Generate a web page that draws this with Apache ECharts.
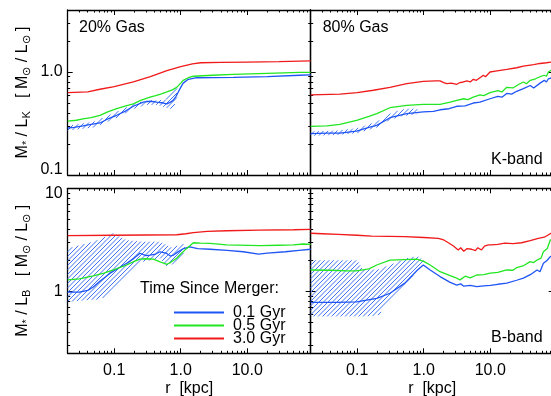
<!DOCTYPE html>
<html><head><meta charset="utf-8">
<script src="https://cdn.jsdelivr.net/npm/echarts@6/dist/echarts.min.js"></script>
<style>html,body{margin:0;padding:0;background:#fff}#c{width:551px;height:396px}</style>
</head><body><div id="c"></div>
<script>
// ---------- tick values ----------
const xMajor = [0.1, 1, 10];
const xMinor = [0.02,0.03,0.04,0.05,0.06,0.07,0.08,0.09,0.2,0.3,0.4,0.5,0.6,0.7,0.8,0.9,2,3,4,5,6,7,8,9,20,30,40,50,60,70,80,90];
const yTopMajor = [0.1, 1];
const yTopMinor = [0.2,0.3,0.4,0.5,0.6,0.7,0.8,0.9,2,3,4];
const yBotMajor = [1, 10];
const yBotMinor = [0.3,0.4,0.5,0.6,0.7,0.8,0.9,2,3,4,5,6,7,8,9];
const seriesNames = ['0.1 Gyr', '0.5 Gyr', '3.0 Gyr'];

// ---------- 20% gas, K-band ----------
const tlRed = [[0.02,0.63],[0.04,0.64],[0.061,0.68],[0.1,0.72],[0.194,0.80],[0.35,0.90],[0.62,1.03],[1.0,1.13],[1.5,1.2],[2.0,1.23],[4,1.24],[10,1.25],[30,1.26],[90,1.28]];
const tlGreen = [[0.02,0.334],[0.027,0.34],[0.034,0.35],[0.045,0.36],[0.061,0.38],[0.08,0.41],[0.109,0.44],[0.15,0.47],[0.194,0.49],[0.25,0.53],[0.346,0.57],[0.42,0.59],[0.5,0.61],[0.62,0.64],[0.75,0.67],[0.87,0.71],[1.0,0.78],[1.09,0.83],[1.3,0.88],[1.55,0.91],[3,0.93],[6.2,0.95],[20,0.97],[62,0.99],[90,0.99]];
const tlBlue = [[0.02,0.286],[0.025,0.29],[0.034,0.30],[0.045,0.31],[0.061,0.32],[0.08,0.35],[0.109,0.38],[0.15,0.42],[0.194,0.465],[0.274,0.51],[0.35,0.52],[0.435,0.51],[0.55,0.50],[0.62,0.49],[0.7,0.51],[0.77,0.53],[0.85,0.58],[0.92,0.64],[1.0,0.71],[1.09,0.78],[1.3,0.85],[1.74,0.88],[6.2,0.885],[20,0.90],[62,0.93],[90,0.94]];
const tlBand = [[0.02,0.27,0.30],[0.05,0.29,0.33],[0.1,0.35,0.40],[0.2,0.44,0.49],[0.3,0.48,0.53],[0.45,0.48,0.53],[0.6,0.45,0.54],[0.7,0.44,0.60],[0.8,0.47,0.66],[0.88,0.55,0.70]];

// ---------- 80% gas, K-band ----------
const trRed = [[0.02,0.60],[0.055,0.61],[0.1,0.63],[0.175,0.665],[0.311,0.71],[0.556,0.77],[0.986,0.81],[1.5,0.82],[1.76,0.82],[2.0,0.79],[2.22,0.77],[2.6,0.78],[3.14,0.76],[3.5,0.79],[3.94,0.80],[4.5,0.82],[5.0,0.80],[5.57,0.85],[6.2,0.83],[7.0,0.88],[7.89,0.93],[8.5,0.90],[9.93,1.0],[12,1.02],[17.7,1.06],[25,1.1],[31.5,1.14],[45,1.18],[56.1,1.21],[70,1.23],[90,1.26]];
const trGreen = [[0.02,0.297],[0.035,0.30],[0.055,0.31],[0.098,0.34],[0.15,0.37],[0.197,0.395],[0.311,0.45],[0.556,0.475],[0.986,0.486],[1.76,0.486],[2.5,0.51],[3.14,0.53],[4,0.55],[4.6,0.54],[5.57,0.57],[7,0.60],[8,0.59],[9.93,0.63],[13,0.66],[15,0.64],[17.7,0.71],[22,0.70],[27,0.76],[31.5,0.80],[35,0.77],[40,0.83],[48,0.86],[56.1,0.90],[65,0.93],[70,0.91],[75,1.0],[90,1.08]];
const trBlue = [[0.02,0.252],[0.035,0.255],[0.055,0.255],[0.098,0.267],[0.15,0.29],[0.197,0.303],[0.311,0.36],[0.556,0.395],[0.986,0.41],[1.4,0.415],[1.76,0.43],[2.4,0.44],[3.14,0.465],[4.2,0.47],[5.57,0.50],[7,0.51],[9.93,0.55],[13,0.58],[15,0.57],[17.7,0.62],[21,0.61],[25,0.65],[31.5,0.69],[40,0.74],[45,0.70],[56.1,0.78],[65,0.83],[70,0.80],[75,0.86],[90,0.89]];
const trBand = [[0.02,0.24,0.265],[0.05,0.245,0.27],[0.1,0.255,0.285],[0.2,0.29,0.33],[0.3,0.34,0.39],[0.45,0.37,0.43],[0.6,0.38,0.44],[0.8,0.39,0.44]];

// ---------- 20% gas, B-band ----------
const blRed = [[0.02,3.47],[0.1,3.5],[0.3,3.52],[0.87,3.54],[1.2,3.62],[1.55,3.72],[2.5,3.82],[4.9,3.87],[15,3.92],[50,3.96],[90,4.0]];
const blGreen = [[0.02,1.29],[0.03,1.32],[0.0485,1.41],[0.07,1.5],[0.1,1.62],[0.154,1.80],[0.2,1.95],[0.244,2.05],[0.3,2.07],[0.387,2.05],[0.5,1.92],[0.62,1.83],[0.7,1.90],[0.87,2.09],[1.0,2.3],[1.23,2.61],[1.55,2.96],[2.0,2.94],[2.76,2.92],[4.9,2.82],[15.6,2.77],[30,2.80],[49,2.82],[70,2.88],[90,2.86]];
const blBlue = [[0.02,0.98],[0.03,0.98],[0.04,1.02],[0.0485,1.1],[0.061,1.25],[0.087,1.5],[0.12,1.7],[0.154,1.87],[0.2,2.1],[0.244,2.34],[0.3,2.22],[0.346,2.25],[0.42,2.3],[0.49,2.42],[0.6,2.35],[0.7,2.2],[0.78,2.25],[0.9,2.4],[1.1,2.6],[1.37,2.7],[1.8,2.6],[2.76,2.56],[5,2.5],[8.7,2.42],[14.8,2.3],[20,2.35],[37.5,2.42],[60,2.5],[90,2.56]];
const blBand = [[0.02,0.79,2.61],[0.0485,0.83,3.03],[0.061,0.83,3.2],[0.087,0.96,3.55],[0.097,1.0,3.66],[0.154,1.39,3.13],[0.274,1.94,3.03],[0.49,2.09,3.03],[0.62,1.73,2.8],[0.78,1.85,2.61],[0.87,2.0,2.75],[1.09,2.3,2.9],[1.17,2.61,2.61]];

// ---------- 80% gas, B-band ----------
const brRed = [[0.02,3.66],[0.03,3.62],[0.052,3.57],[0.1,3.5],[0.165,3.44],[0.3,3.42],[0.52,3.39],[1.0,3.33],[1.66,3.27],[2.0,3.15],[2.35,2.96],[2.8,2.75],[3.3,2.52],[3.6,2.65],[4.0,2.45],[4.5,2.6],[5.25,2.56],[6.0,2.48],[6.5,2.65],[7.4,2.52],[8.2,2.75],[9.4,2.82],[10.5,2.82],[13,2.85],[16.6,2.93],[22,2.9],[29.6,2.96],[40,3.1],[52.7,3.27],[65,3.35],[82,3.66],[90,3.7]];
const brGreen = [[0.02,1.61],[0.04,1.60],[0.07,1.58],[0.098,1.58],[0.15,1.65],[0.197,1.8],[0.311,2.01],[0.5,2.03],[0.785,2.05],[1.0,1.95],[1.25,1.8],[1.76,1.55],[2.5,1.42],[3.0,1.36],[3.51,1.29],[4.2,1.4],[5,1.35],[6.26,1.44],[8,1.45],[10,1.5],[13,1.53],[17.7,1.61],[22,1.6],[25,1.7],[32,1.78],[39.8,1.94],[45,1.9],[50,2.0],[58,2.1],[63,2.42],[72,2.6],[80,3.15],[90,3.2]];
const brBlue = [[0.02,0.78],[0.05,0.78],[0.098,0.79],[0.197,0.855],[0.311,0.957],[0.52,1.2],[0.8,1.6],[0.986,1.8],[1.25,1.61],[1.76,1.39],[2.5,1.22],[3.14,1.15],[3.6,1.18],[4,1.12],[5,1.14],[6.26,1.11],[8,1.13],[10,1.14],[13,1.17],[17.7,1.2],[25,1.28],[31.5,1.34],[40,1.45],[50.6,1.61],[56,1.55],[63,1.87],[72,2.0],[80,2.17],[90,2.2]];
const brBand = [[0.02,0.57,2.0],[0.1,0.57,2.0],[0.12,0.57,1.65],[0.2,0.58,1.62],[0.22,0.61,1.65],[0.31,0.82,1.8],[0.556,1.2,2.09],[0.8,1.6,2.2],[0.99,1.94,2.0]];

// ---------- styling ----------
const FONT = 'Liberation Sans, Arial, Helvetica, sans-serif';
const RED = '#f01a1a', GREEN = '#22e622', BLUE = '#1f55f5', HATCH = '#3f72f4';

const grids = [
  { left: 67.7, top: 10, width: 243, height: 165 },
  { left: 310.7, top: 10, width: 243, height: 165 },
  { left: 67.7, top: 188.3, width: 243, height: 165 },
  { left: 310.7, top: 188.3, width: 243, height: 165 }
].map(g => Object.assign({ outerBoundsMode: 'none', containLabel: false }, g));

const axisLineStyle = { color: '#000', width: 1.3 };

function xFmt(v) { return v < 0.5 ? '0.1' : (v < 5 ? '1.0' : '10.0'); }

function makeX(g, pos, showLabel, name) {
  const common = { type: 'log', logBase: 10, gridIndex: g, position: pos, min: 0.02, max: 90,
    splitLine: { show: false }, minorTick: { show: false }, minorSplitLine: { show: false } };
  return [
    Object.assign({}, common, {
      axisLine: { show: true, onZero: false, lineStyle: axisLineStyle },
      axisTick: { show: true, inside: true, length: 5, customValues: xMajor, lineStyle: { color: '#000', width: 1 } },
      axisLabel: showLabel ? { show: true, customValues: xMajor, formatter: xFmt, margin: 9, color: '#000', fontSize: 16, fontFamily: FONT } : { show: false },
      name: name || '', nameLocation: 'middle', nameGap: 27,
      nameTextStyle: { color: '#000', fontSize: 16, fontFamily: FONT }
    }),
    Object.assign({}, common, {
      axisLine: { show: false },
      axisTick: { show: true, inside: true, length: 2.5, customValues: xMinor, lineStyle: { color: '#000', width: 1 } },
      axisLabel: { show: false }
    })
  ];
}

function makeY(g, pos, isTop, showLabel, name) {
  const major = isTop ? yTopMajor : yBotMajor;
  const minor = isTop ? yTopMinor : yBotMinor;
  const common = { type: 'log', logBase: 10, gridIndex: g, position: pos,
    min: isTop ? 0.1 : 0.25, max: isTop ? 4 : 10,
    splitLine: { show: false }, minorTick: { show: false }, minorSplitLine: { show: false } };
  const fmt = isTop ? (v => v < 0.5 ? '{lo|0.1}' : '1.0') : (v => v < 5 ? '1' : '{hi|10}');
  return [
    Object.assign({}, common, {
      axisLine: { show: true, onZero: false, lineStyle: axisLineStyle },
      axisTick: { show: true, inside: true, length: 5, customValues: major, lineStyle: { color: '#000', width: 1 } },
      axisLabel: showLabel ? { show: true, customValues: major, formatter: fmt, margin: 5, color: '#000', fontSize: 16, fontFamily: FONT,
        rich: { lo: { fontSize: 16, fontFamily: FONT, color: '#000', padding: [0, 0, 10, 0] },
                hi: { fontSize: 16, fontFamily: FONT, color: '#000', padding: [10, 0, 0, 0] } } } : { show: false },
      name: name || '', nameLocation: 'middle', nameRotate: 90, nameGap: 35,
      nameTextStyle: { color: '#000', fontSize: 16, fontFamily: FONT,
        rich: { a: { fontSize: 16, fontFamily: FONT, color: '#000' },
                s: { fontSize: 11, fontFamily: FONT, color: '#000', padding: [9, 0, 0, 0] } } }
    }),
    Object.assign({}, common, {
      axisLine: { show: false },
      axisTick: { show: true, inside: true, length: 2.5, customValues: minor, lineStyle: { color: '#000', width: 1 } },
      axisLabel: { show: false }
    })
  ];
}

const nameK = '{a|M}{s|*}{a| / L}{s|K}{a|   [ M}{s|⊙}{a| / L}{s|⊙}{a| ]}';
const nameB = '{a|M}{s|*}{a| / L}{s|B}{a|   [ M}{s|⊙}{a| / L}{s|⊙}{a| ]}';

const xAxis = [], yAxis = [];
for (let g = 0; g < 4; g++) {
  const bottomRow = g >= 2;
  xAxis.push(...makeX(g, 'bottom', bottomRow, bottomRow ? 'r  [kpc]' : ''));
  xAxis.push(...makeX(g, 'top', false, ''));
  const leftCol = g % 2 === 0;
  const isTop = g < 2;
  yAxis.push(...makeY(g, 'left', isTop, leftCol, leftCol ? (isTop ? nameK : nameB) : ''));
  yAxis.push(...makeY(g, 'right', isTop, false, ''));
}

function line(g, name, data, color) {
  return { type: 'line', name: name, data: data, xAxisIndex: 4 * g, yAxisIndex: 4 * g,
    symbol: 'none', showSymbol: false, clip: true, animation: false, z: 3,
    lineStyle: { color: color, width: 1.3 }, itemStyle: { color: color } };
}

// hatch lines ("/") clipped to the band polygon, polygon built through the axes
const HATCH_STEP = 4.5;
function hatchSegments(poly) {
  let cmin = Infinity, cmax = -Infinity;
  poly.forEach(p => { const c = p[0] + p[1]; if (c < cmin) cmin = c; if (c > cmax) cmax = c; });
  const segs = [];
  const start = Math.ceil(cmin / HATCH_STEP) * HATCH_STEP;
  for (let c = start; c <= cmax; c += HATCH_STEP) {
    const pts = [];
    for (let i = 0; i < poly.length; i++) {
      const P = poly[i], Q = poly[(i + 1) % poly.length];
      const fp = P[0] + P[1] - c, fq = Q[0] + Q[1] - c;
      if ((fp < 0 && fq >= 0) || (fp >= 0 && fq < 0)) {
        const t = fp / (fp - fq);
        pts.push([P[0] + t * (Q[0] - P[0]), P[1] + t * (Q[1] - P[1])]);
      }
    }
    pts.sort((a, b) => a[0] - b[0]);
    for (let k = 0; k + 1 < pts.length; k += 2) segs.push([pts[k], pts[k + 1]]);
  }
  return segs;
}
function band(g, pts) {
  return { type: 'custom', name: 'band' + g, xAxisIndex: 4 * g, yAxisIndex: 4 * g, clip: true, silent: true, animation: false, z: 2,
    data: [[1, 1]],
    renderItem: function (params, api) {
      const upper = pts.map(p => api.coord([p[0], p[2]]));
      const lower = pts.map(p => api.coord([p[0], p[1]])).reverse();
      const segs = hatchSegments(upper.concat(lower));
      return { type: 'group', children: segs.map(s => ({ type: 'line',
        shape: { x1: s[0][0], y1: s[0][1], x2: s[1][0], y2: s[1][1] },
        style: { stroke: HATCH, lineWidth: 1 } })) };
    } };
}

const panels = [
  [tlBlue, tlGreen, tlRed, tlBand],
  [trBlue, trGreen, trRed, trBand],
  [blBlue, blGreen, blRed, blBand],
  [brBlue, brGreen, brRed, brBand]
];
const series = [];
panels.forEach((p, g) => {
  series.push(band(g, p[3]));
  series.push(line(g, seriesNames[0], p[0], BLUE));
  series.push(line(g, seriesNames[1], p[1], GREEN));
  series.push(line(g, seriesNames[2], p[2], RED));
});

function label(text, x, y) {
  return { type: 'text', x: x, y: y, silent: true,
    style: { text: text, fill: '#000', font: '16px ' + FONT, textVerticalAlign: 'middle', verticalAlign: 'middle' } };
}

const chart = echarts.init(document.getElementById('c'), null, { renderer: 'canvas' });
chart.setOption({
  animation: false,
  backgroundColor: '#fff',
  grid: grids,
  xAxis: xAxis,
  yAxis: yAxis,
  legend: { data: seriesNames, orient: 'vertical', left: 173, top: 304.5, padding: 0,
    itemWidth: 50, itemHeight: 13, itemGap: -3, selectedMode: false,
    itemStyle: { opacity: 0 },
    textStyle: { fontSize: 16, lineHeight: 13, color: '#000', fontFamily: FONT, padding: [0, 0, 0, 4] } },
  graphic: [
    label('20% Gas', 79, 27.2),
    label('80% Gas', 322.7, 27.2),
    label('K-band', 491, 159.5),
    label('B-band', 491, 337.5),
    label('Time Since Merger:', 140, 288.3)
  ],
  series: series
});
</script></body></html>
